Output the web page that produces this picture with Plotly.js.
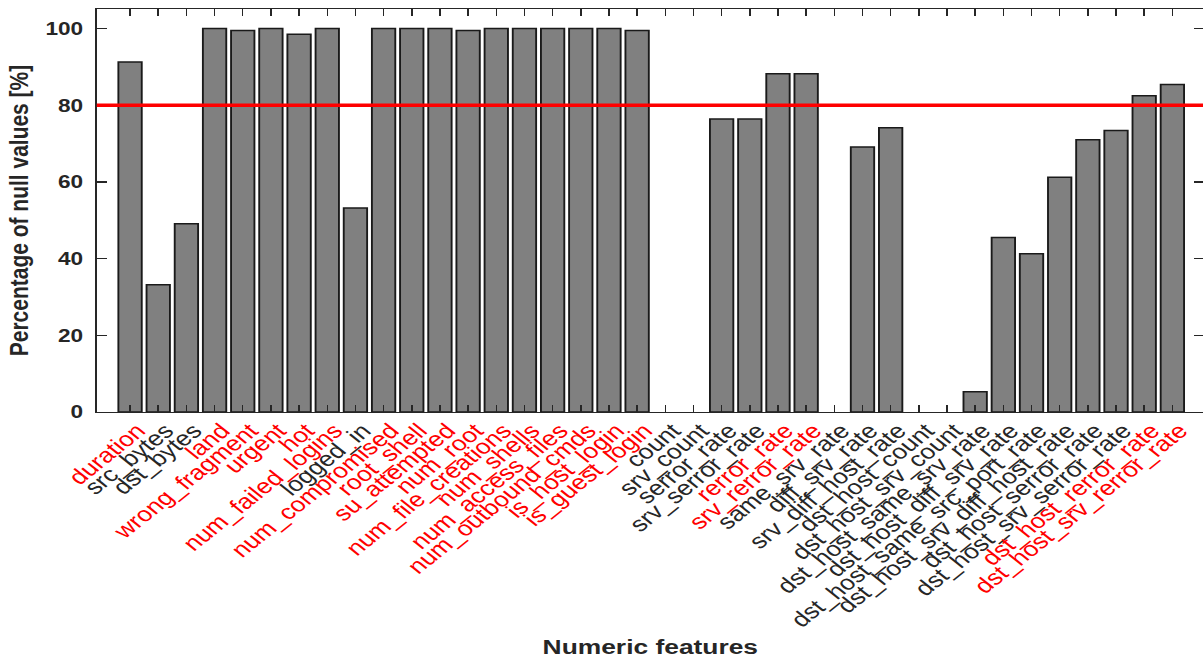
<!DOCTYPE html>
<html><head><meta charset="utf-8">
<script src="https://cdn.plot.ly/plotly-3.0.1.min.js"></script>
<style>
html,body{margin:0;padding:0;overflow:hidden;background:#fff;width:1203px;height:664px;}
#wrap{width:1203px;height:664px;overflow:hidden;position:relative;}
#chart{width:958px;height:664px;transform:scaleX(1.2567);transform-origin:0 0;}
</style></head><body><div id="wrap"><div id="chart"></div></div>
<script>
const features = ["duration","src_bytes","dst_bytes","land","wrong_fragment","urgent","hot",
  "num_failed_logins","logged_in","num_compromised","root_shell","su_attempted","num_root",
  "num_file_creations","num_shells","num_access_files","num_outbound_cmds","is_host_login",
  "is_guest_login","count","srv_count","serror_rate","srv_serror_rate","rerror_rate",
  "srv_rerror_rate","same_srv_rate","diff_srv_rate","srv_diff_host_rate","dst_host_count",
  "dst_host_srv_count","dst_host_same_srv_rate","dst_host_diff_srv_rate",
  "dst_host_same_src_port_rate","dst_host_srv_diff_host_rate","dst_host_serror_rate",
  "dst_host_srv_serror_rate","dst_host_rerror_rate","dst_host_srv_rerror_rate"];
const nullPct = [91.3, 33.2, 49.1, 100, 99.5, 100, 98.5,
  100, 53.2, 100, 100, 100, 99.5,
  100, 100, 100, 100, 100,
  99.5, 0, 0, 76.4, 76.4, 88.2,
  88.2, 0, 69.1, 74.1, 0,
  0, 5.3, 45.5,
  41.3, 61.2, 71.0,
  73.4, 82.5, 85.4];
const threshold = 80;
const yTicks = [0, 20, 40, 60, 80, 100];

const FONT = "Liberation Sans, Arial, Helvetica, sans-serif";
const TXT = "#262626";
const tickText = features.map((f, i) =>
  nullPct[i] > threshold ? '<span style="color:#ff0000">' + f + '</span>' : f);
// empty bars get no outline so nothing is drawn for them
const outlineWidths = nullPct.map(v => v > 0 ? 1.5 : 0);

const trace = {
  type: "bar",
  x: features,
  y: nullPct,
  marker: {color: "#808080", line: {color: "#1a1a1a", width: outlineWidths}},
  hoverinfo: "x+y"
};

const layout = {
  width: 958, height: 664,
  margin: {l: 77, r: 0, t: 9, b: 252},
  paper_bgcolor: "#ffffff", plot_bgcolor: "#ffffff",
  bargap: 0.17,
  showlegend: false,
  xaxis: {
    type: "category",
    range: [-1.182, 38.12],
    tickmode: "array", tickvals: features, ticktext: tickText,
    tickangle: -45,
    ticklabelshift: 6,
    ticklabelstandoff: -3,
    ticks: "inside", ticklen: 7, tickwidth: 1.2, tickcolor: TXT,
    showline: true, linecolor: TXT, linewidth: 1.2, mirror: "ticks",
    showgrid: false, zeroline: false, automargin: false,
    tickfont: {family: FONT, size: 21, color: TXT},
    title: {text: "Numeric features", standoff: 8,
      font: {family: FONT, size: 21, color: TXT, weight: "bold"}}
  },
  yaxis: {
    range: [0, 105.1],
    tickmode: "array", tickvals: yTicks,
    ticks: "inside", ticklen: 8, tickwidth: 1.2, tickcolor: TXT,
    showline: true, linecolor: TXT, linewidth: 1.2, mirror: "ticks",
    showgrid: false, zeroline: false, automargin: false,
    ticklabelstandoff: 6,
    tickfont: {family: FONT, size: 18, color: TXT, weight: "bold"},
    title: {text: "Percentage of null values [%]", standoff: 7,
      font: {family: FONT, size: 21, color: TXT, weight: "bold"}}
  },
  shapes: [{
    type: "line", xref: "paper", x0: 0, x1: 1, yref: "y", y0: threshold, y1: threshold,
    line: {color: "#ff0000", width: 3.5}, layer: "above"
  }]
};

Plotly.newPlot("chart", [trace], layout, {displayModeBar: false, staticPlot: true});
</script>
</body></html>
